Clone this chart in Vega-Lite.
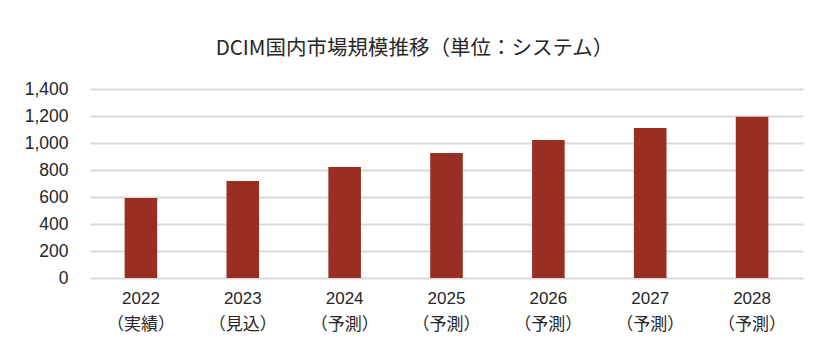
{
  "$schema": "https://vega.github.io/schema/vega-lite/v6.json",
  "autosize": "none",
  "width": 713,
  "height": 189,
  "padding": {"left": 90, "top": 89, "right": 33, "bottom": 80},
  "background": "white",
  "title": {
    "text": "DCIM国内市場規模推移（単位：システム）",
    "font": "Noto Sans CJK JP",
    "fontSize": 20.5,
    "fontWeight": "normal",
    "color": "#262626",
    "anchor": "middle",
    "dx": -32,
    "offset": 21
  },
  "data": {
    "values": [
      {"year": "2022", "label": "2022\n（実績）", "value": 593},
      {"year": "2023", "label": "2023\n（見込）", "value": 718},
      {"year": "2024", "label": "2024\n（予測）", "value": 822},
      {"year": "2025", "label": "2025\n（予測）", "value": 926},
      {"year": "2026", "label": "2026\n（予測）", "value": 1022},
      {"year": "2027", "label": "2027\n（予測）", "value": 1111},
      {"year": "2028", "label": "2028\n（予測）", "value": 1195}
    ]
  },
  "mark": {"type": "bar", "color": "#992e22"},
  "encoding": {
    "x": {
      "field": "year",
      "type": "nominal",
      "sort": null,
      "scale": {"paddingInner": 0.68, "paddingOuter": 0.34},
      "axis": {
        "title": null,
        "labelAngle": 0,
        "labelExpr": "datum.value == '2022' ? ['2022','（実績）'] : datum.value == '2023' ? ['2023','（見込）'] : [datum.value,'（予測）']",
        "labelFont": "Liberation Sans, Noto Sans CJK JP",
        "labelFontSize": 17,
        "labelColor": "#262626",
        "labelLineHeight": 26,
        "labelPadding": 12,
        "ticks": false,
        "domain": false,
        "grid": false
      }
    },
    "y": {
      "field": "value",
      "type": "quantitative",
      "scale": {"domain": [0, 1400]},
      "axis": {
        "title": null,
        "values": [0, 200, 400, 600, 800, 1000, 1200, 1400],
        "format": ",d",
        "labelFont": "Liberation Sans",
        "labelFontSize": 17.5,
        "labelColor": "#262626",
        "labelPadding": 22,
        "ticks": false,
        "domain": false,
        "grid": true,
        "gridColor": "#d9d9d9",
        "gridWidth": 2
      }
    }
  },
  "config": {"view": {"stroke": null}}
}
